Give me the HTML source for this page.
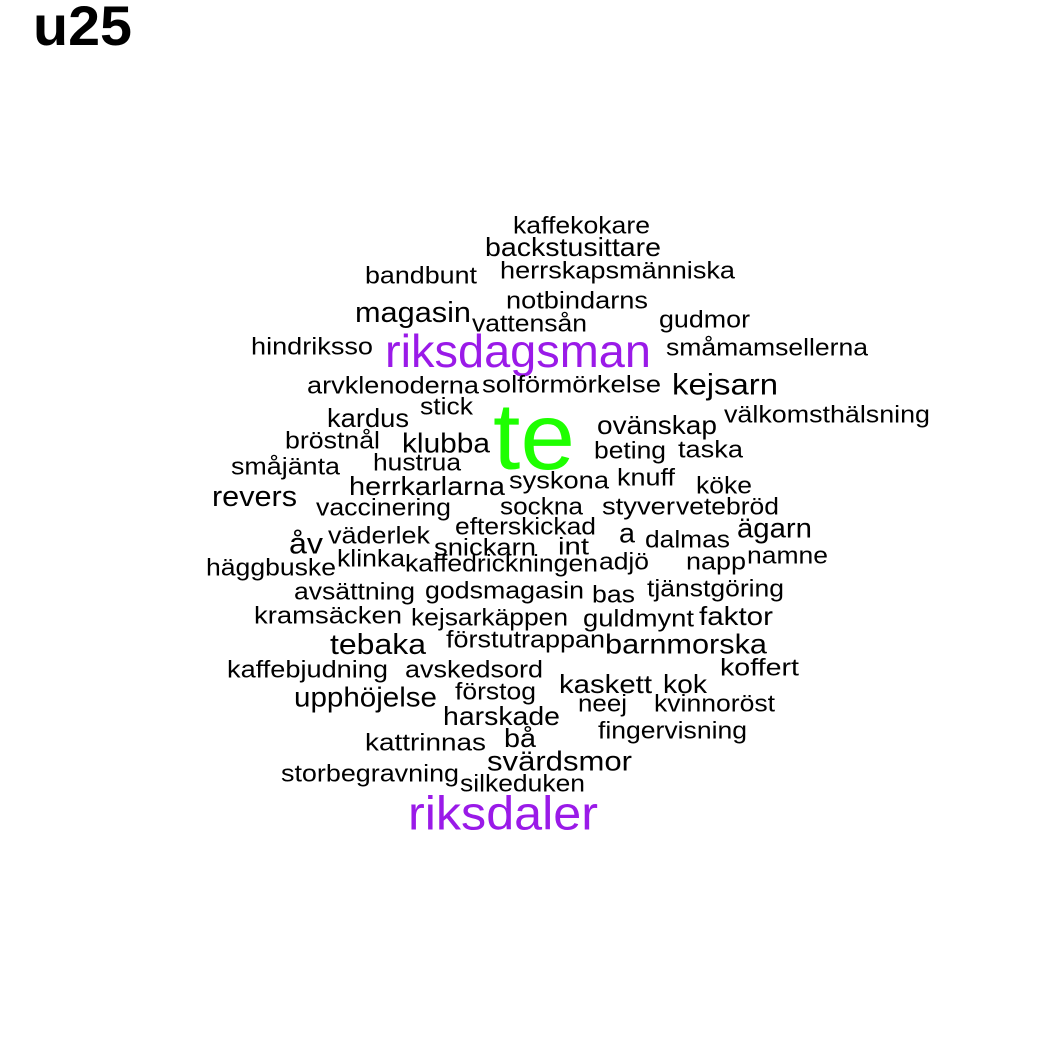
<!DOCTYPE html>
<html><head><meta charset="utf-8"><style>
html,body{margin:0;padding:0;background:#fff;}
svg{display:block;}
text{font-family:"Liberation Sans",Arial,sans-serif;}
</style></head>
<body>
<svg id="cloud" width="1050" height="1050" viewBox="0 0 1050 1050" xmlns="http://www.w3.org/2000/svg">
<rect width="1050" height="1050" fill="#fff"/>
<text x="33" y="45" font-size="56" font-weight="bold" fill="#000" textLength="99" lengthAdjust="spacingAndGlyphs">u25</text>
</svg>
<script>
const words=["kaffekokare","backstusittare","bandbunt","herrskapsmänniska","notbindarns","magasin","vattensån","gudmor","hindriksso","riksdagsman","småmamsellerna","arvklenoderna","solförmörkelse","kejsarn","stick","kardus","te","ovänskap","välkomsthälsning","bröstnål","klubba","beting","taska","småjänta","hustrua","syskona","knuff","herrkarlarna","köke","revers","vaccinering","sockna","styver","vetebröd","efterskickad","a","ägarn","dalmas","åv","väderlek","snickarn","int","klinka","kaffedrickningen","adjö","napp","namne","häggbuske","avsättning","godsmagasin","bas","tjänstgöring","kramsäcken","kejsarkäppen","guldmynt","faktor","tebaka","förstutrappan","barnmorska","kaffebjudning","avskedsord","koffert","kaskett","kok","upphöjelse","förstog","neej","kvinnoröst","harskade","fingervisning","kattrinnas","bå","svärdsmor","storbegravning","silkeduken","riksdaler"];
const lefts=[513,485,365,500,506,355,472,659,251,385,666,307,482,672,420,327,493,597,724,285,402,594,678,231,373,509,617,349,696,212,316,500,602,676,455,619,737,645,289,328,434,558,337,405,599,686,747,206,294,425,592,647,254,411,583,699,330,446,605,227,405,720,559,663,294,455,578,654,443,598,365,504,487,281,460,408];
const rights=[650,661,477,735,648,471,587,750,373,651,868,479,661,778,473,409,575,717,930,380,490,666,743,340,461,609,675,505,752,297,451,583,675,779,596,635,812,730,323,430,536,589,405,598,649,746,828,336,415,584,635,784,402,568,694,773,426,605,767,388,543,799,652,707,437,536,627,775,560,747,486,536,632,459,585,598];
const centers=[226,247,276,271,301,313,324,320,347,351,348,386,385,385,407,418,437,425,415,441,443,451,450,467,463,481,478,486,486,497,508,507,507,507,527,533,528,540,544,536,548,547,559,564,562,562,556,568,592,591,595,589,616,618,619,616,645,640,644,670,670,668,684,684,697,692,704,704,716,731,743,738,761,774,784,813];
const sizes=[24,26,24,24,24,29,24,24,24,46,24,24,24,30,24,26,95,26,24,24,28,24,24,24,24,24,24,26,24,29,24,24,24,24,24,28,28,24,30,24,24,24,24,24,24,24,24,24,24,24,24,24,24,24,24,26,29,24,28,24,24,24,26,26,28,24,24,24,26,24,24,26,28,24,24,47];
const colors={"te":"#1EFF00","riksdagsman":"#9A1AE8","riksdaler":"#9A1AE8"};
const svg=document.getElementById('cloud');
const NS="http://www.w3.org/2000/svg";
words.forEach((w,i)=>{
  const t=document.createElementNS(NS,'text');
  
  
  t.setAttribute('x',(lefts[i]+rights[i])/2);
  t.setAttribute('y',centers[i]);
  t.setAttribute('text-anchor','middle');
  t.setAttribute('dominant-baseline','central');
  t.setAttribute('font-size',sizes[i]);
  t.setAttribute('textLength',rights[i]-lefts[i]);
  t.setAttribute('lengthAdjust','spacingAndGlyphs');
  t.setAttribute('fill',colors[w]||'#000');
  t.textContent=w;
  svg.appendChild(t);
});
</script>
</body></html>
